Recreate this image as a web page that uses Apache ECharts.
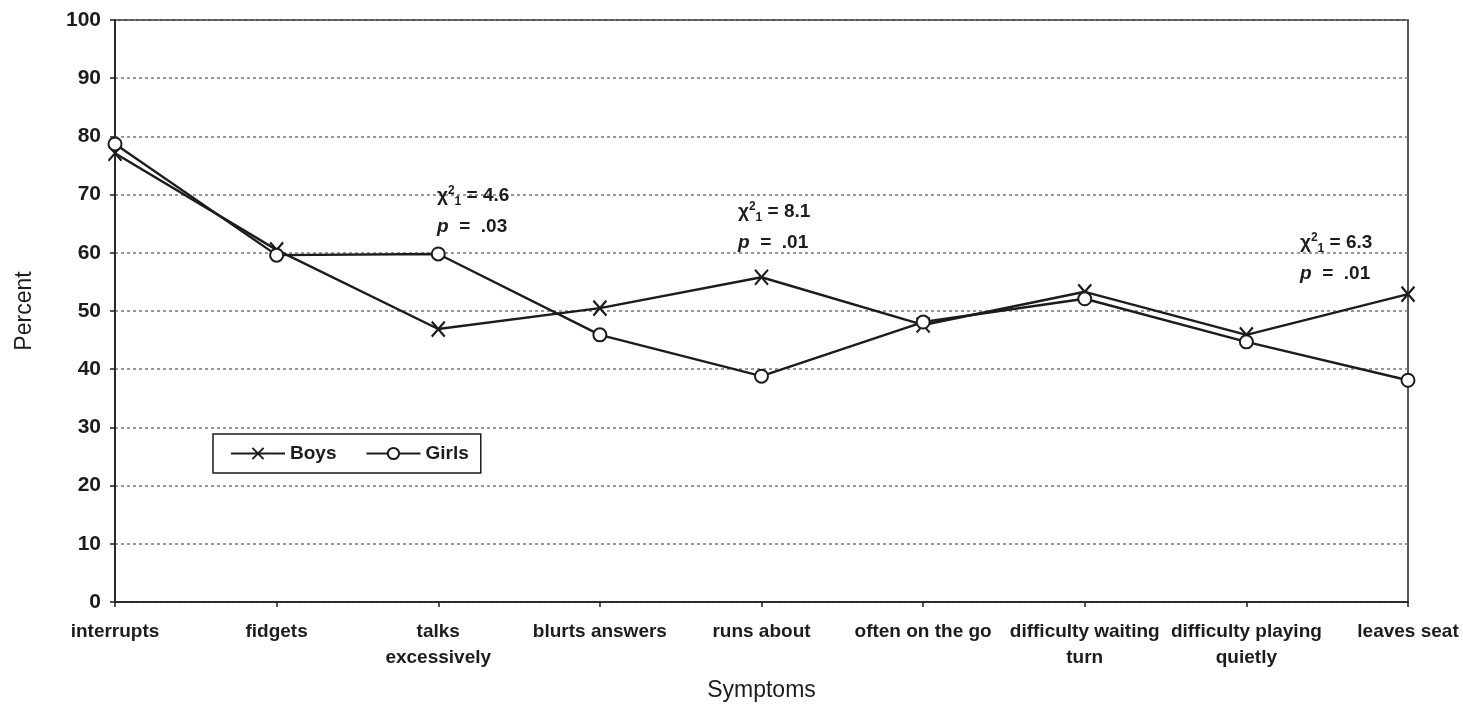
<!DOCTYPE html>
<html>
<head>
<meta charset="utf-8">
<script src="https://cdn.jsdelivr.net/npm/echarts@6/dist/echarts.min.js"></script>
<style>
html,body{margin:0;padding:0;background:#fff;}
#chart{width:1463px;height:705px;}
</style>
</head>
<body>
<div id="chart"></div>
<script>
const categories = ['interrupts','fidgets','talks\nexcessively','blurts answers','runs about','often on the go','difficulty waiting\nturn','difficulty playing\nquietly','leaves seat'];
const boys  = [77.1, 60.5, 46.9, 50.5, 55.8, 47.6, 53.3, 45.9, 52.9];
const girls = [78.7, 59.6, 59.8, 45.9, 38.8, 48.1, 52.1, 44.7, 38.1];
const yTicks = [0,10,20,30,40,50,60,70,80,90,100];
const annChi = ['4.6','8.1','6.3'];
const annP = ['.03','.01','.01'];

const FONT = 'Liberation Sans, Arial, sans-serif';
const INK = '#1c1c1c';
const chart = echarts.init(document.getElementById('chart'), null, {renderer:'canvas'});

const annPos = [[437,184],[738,200],[1300,231]];
const graphics = [];
annChi.forEach((v,i)=>{
  graphics.push({
    type:'text', left:annPos[i][0], top:annPos[i][1], z:100,
    style:{
      text:'{b|χ}{sup|2}{sub|1}{b| = '+v+'}\n{it|p}{b2|  =  '+annP[i]+'}',
      rich:{
        b:{fontFamily:FONT,fontWeight:'bold',fontSize:19,fill:INK,lineHeight:24},
        b2:{fontFamily:FONT,fontWeight:'bold',fontSize:19,fill:INK,lineHeight:38},
        it:{fontFamily:FONT,fontWeight:'bold',fontStyle:'italic',fontSize:19,fill:INK,lineHeight:38},
        sup:{fontFamily:FONT,fontWeight:'bold',fontSize:12,fill:INK,lineHeight:12,verticalAlign:'top',padding:[1,0,0,0]},
        sub:{fontFamily:FONT,fontWeight:'bold',fontSize:12,fill:INK,lineHeight:12,verticalAlign:'bottom',padding:[0,0,0,0]}
      }
    }
  });
});

const xSym = 'path://M0,0L10,12M10,0L0,12';

chart.setOption({
  animation:false,
  backgroundColor:'#fff',
  grid:{left:115,right:55,top:20,bottom:103,show:true,borderColor:INK,borderWidth:1.5,
        backgroundColor:'transparent',containLabel:false,outerBoundsMode:'none'},
  legend:{
    left:213, top:434,
    padding:[10,12,10,17],
    itemGap:29,
    itemWidth:54, itemHeight:14,
    borderColor:INK, borderWidth:1.5,
    textStyle:{fontFamily:FONT,fontWeight:'bold',fontSize:19,color:INK},
    data:['Boys','Girls']
  },
  xAxis:{
    type:'category', data:categories, boundaryGap:false,
    name:'Symptoms', nameLocation:'middle', nameGap:77,
    nameTextStyle:{fontFamily:FONT,fontSize:23,color:INK},
    axisLine:{lineStyle:{color:INK,width:1.5}},
    axisTick:{show:true,alignWithLabel:true,length:5,lineStyle:{color:INK,width:1.5}},
    axisLabel:{fontFamily:FONT,fontWeight:'bold',fontSize:19,color:INK,margin:17,lineHeight:26,interval:0},
    splitLine:{show:false}
  },
  yAxis:{
    type:'value', min:0, max:100, interval:10,
    name:'Percent', nameLocation:'middle', nameGap:79, nameRotate:90,
    nameTextStyle:{fontFamily:FONT,fontSize:23,color:INK},
    axisLine:{show:true,lineStyle:{color:INK,width:1.5}},
    axisTick:{show:true,length:5,lineStyle:{color:INK,width:1.5}},
    axisLabel:{fontFamily:FONT,fontWeight:'bold',fontSize:21,color:INK,margin:14,
      formatter:function(v){return yTicks.indexOf(v)>=0?String(v):'';}},
    splitLine:{show:true,lineStyle:{color:'#777',type:[3,3],width:1.5}}
  },
  series:[
    {name:'Boys',type:'line',data:boys,symbol:xSym,symbolSize:[13,15],
     lineStyle:{color:INK,width:2.4},
     itemStyle:{color:INK,borderColor:INK,borderWidth:2.2},
     z:3},
    {name:'Girls',type:'line',data:girls,symbol:'emptyCircle',symbolSize:13,
     lineStyle:{color:INK,width:2.4},
     itemStyle:{color:INK,borderColor:INK,borderWidth:2},
     z:4}
  ],
  graphic:graphics
});
</script>
</body>
</html>
